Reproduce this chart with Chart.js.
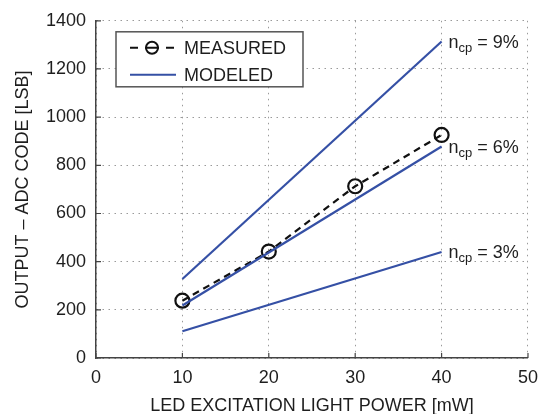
<!DOCTYPE html>
<html>
<head>
<meta charset="utf-8">
<script src="https://cdn.jsdelivr.net/npm/chart.js@4/dist/chart.umd.min.js"></script>
<style>
  html, body { margin: 0; padding: 0; background: #fff; }
  canvas { display: block; }
</style>
</head>
<body>
<canvas id="chart" width="547" height="414"></canvas>
<script>
// data
const powerMeasured = [10, 20, 30, 40];
const codeMeasured = [238, 442, 713, 926];

const powerModel = [10, 40];
const model9 = [328, 1314];
const model6 = [218, 878];
const model3 = [111, 440];

const modelLabels = ['9%', '6%', '3%'];
const xTicks = [0, 10, 20, 30, 40, 50];
const yTicks = [0, 200, 400, 600, 800, 1000, 1200, 1400];

const FONT = '"Liberation Sans", Arial, Helvetica, sans-serif';
const BLUE = '#3550a5';
const TEXT = '#1e1e1e';

const toPoints = (xs, ys) => xs.map((x, i) => ({x: x, y: ys[i]}));

// inward tick marks on left and bottom axis
const innerTicks = {
    id: 'innerTicks',
    afterDraw(chart) {
        const {ctx, chartArea, scales} = chart;
        ctx.save();
        ctx.strokeStyle = '#444';
        ctx.lineWidth = 1.2;
        ctx.beginPath();
        xTicks.forEach(v => {
            const px = scales.x.getPixelForValue(v);
            ctx.moveTo(px, chartArea.bottom);
            ctx.lineTo(px, chartArea.bottom - 5);
        });
        yTicks.forEach(v => {
            const py = scales.y.getPixelForValue(v);
            ctx.moveTo(chartArea.left, py);
            ctx.lineTo(chartArea.left + 5, py);
        });
        ctx.stroke();
        ctx.restore();
    }
};

// n_cp labels at end of each modeled line
const lineLabels = {
    id: 'lineLabels',
    afterDatasetsDraw(chart) {
        const {ctx, scales} = chart;
        const ends = [model9, model6, model3];
        ctx.save();
        ctx.fillStyle = TEXT;
        ctx.textBaseline = 'alphabetic';
        ends.forEach((vals, i) => {
            const x = scales.x.getPixelForValue(powerModel[powerModel.length - 1]) + 7;
            const y = scales.y.getPixelForValue(vals[vals.length - 1]) + 6;
            ctx.font = '18px ' + FONT;
            ctx.fillText('n', x, y);
            let cx = x + ctx.measureText('n').width;
            ctx.font = '13px ' + FONT;
            ctx.fillText('cp', cx, y + 4);
            cx += ctx.measureText('cp').width;
            ctx.font = '18px ' + FONT;
            ctx.fillText(' = ' + modelLabels[i], cx, y);
        });
        ctx.restore();
    }
};

// boxed legend inside the plot
const boxLegend = {
    id: 'boxLegend',
    afterDraw(chart) {
        const {ctx, chartArea} = chart;
        const bx = chartArea.left + 20, by = chartArea.top + 11;
        const bw = 187, bh = 55;
        ctx.save();
        ctx.fillStyle = '#fff';
        ctx.fillRect(bx, by, bw, bh);
        ctx.strokeStyle = '#555';
        ctx.lineWidth = 1.5;
        ctx.strokeRect(bx, by, bw, bh);

        const y1 = by + 16, y2 = by + 43;
        ctx.strokeStyle = '#111';
        ctx.lineWidth = 2;
        ctx.beginPath();
        ctx.moveTo(bx + 14, y1); ctx.lineTo(bx + 22, y1);
        ctx.moveTo(bx + 29, y1); ctx.lineTo(bx + 43, y1);
        ctx.moveTo(bx + 50, y1); ctx.lineTo(bx + 58, y1);
        ctx.stroke();
        ctx.beginPath();
        ctx.arc(bx + 36, y1, 6, 0, Math.PI * 2);
        ctx.stroke();

        ctx.strokeStyle = BLUE;
        ctx.beginPath();
        ctx.moveTo(bx + 14, y2); ctx.lineTo(bx + 60, y2);
        ctx.stroke();

        ctx.fillStyle = TEXT;
        ctx.font = '18px ' + FONT;
        ctx.textBaseline = 'middle';
        ctx.fillText('MEASURED', bx + 68, y1 + 1);
        ctx.fillText('MODELED', bx + 68, y2 + 1);
        ctx.restore();
    }
};

const modelStyle = {
    showLine: true,
    borderColor: BLUE,
    borderWidth: 2.2,
    pointRadius: 0,
    fill: false
};

new Chart(document.getElementById('chart'), {
    type: 'scatter',
    data: {
        datasets: [
            Object.assign({label: 'n_cp = 9%', data: toPoints(powerModel, model9)}, modelStyle),
            Object.assign({label: 'n_cp = 6%', data: toPoints(powerModel, model6)}, modelStyle),
            Object.assign({label: 'n_cp = 3%', data: toPoints(powerModel, model3)}, modelStyle),
            {
                label: 'MEASURED',
                data: toPoints(powerMeasured, codeMeasured),
                showLine: true,
                borderColor: '#111',
                borderWidth: 2.2,
                borderDash: [7, 5],
                pointRadius: 7,
                pointBorderWidth: 2.2,
                pointBorderColor: '#111',
                pointBackgroundColor: 'rgba(0,0,0,0)',
                fill: false
            }
        ]
    },
    options: {
        responsive: false,
        animation: false,
        devicePixelRatio: 1,
        layout: { padding: { left: 0, right: 17, top: 17, bottom: 0 } },
        plugins: {
            legend: { display: false },
            tooltip: { enabled: false }
        },
        scales: {
            x: {
                type: 'linear',
                min: 0, max: 50,
                afterFit: s => { s.height = 56; },
                afterBuildTicks: s => { s.ticks = xTicks.map(v => ({value: v})); },
                ticks: { color: TEXT, font: { family: FONT, size: 18 }, padding: 9, maxRotation: 0,
                         callback: v => String(v) },
                grid: { color: '#9a9a9a', lineWidth: 1, drawTicks: false },
                border: { display: true, color: '#444', width: 1.5, dash: [1.5, 4.5] },
                title: { display: true, text: 'LED EXCITATION LIGHT POWER [mW]', color: TEXT,
                         font: { family: FONT, size: 18 }, padding: { top: 0, bottom: -3 } }
            },
            y: {
                min: 0, max: 1400,
                afterFit: s => { s.width = 96; },
                afterBuildTicks: s => { s.ticks = yTicks.map(v => ({value: v})); },
                ticks: { color: TEXT, font: { family: FONT, size: 18 }, padding: 10,
                         callback: v => String(v) },
                grid: { color: '#9a9a9a', lineWidth: 1, drawTicks: false },
                border: { display: true, color: '#444', width: 1.5, dash: [1.5, 4.5] },
                title: { display: true, text: 'OUTPUT \u2013 ADC CODE [LSB]', color: TEXT,
                         font: { family: FONT, size: 18 }, padding: { top: 12, bottom: 0 } }
            }
        }
    },
    plugins: [innerTicks, lineLabels, boxLegend]
});
</script>
</body>
</html>
